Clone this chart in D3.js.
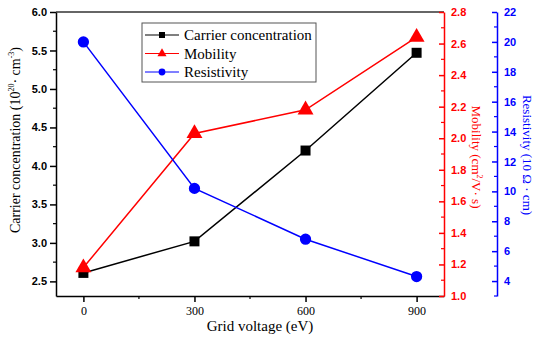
<!DOCTYPE html>
<html>
<head>
<meta charset="utf-8">
<script src="https://cdn.jsdelivr.net/npm/d3@7"></script>
<style>
  body { margin: 0; background: #fff; }
  svg { display: block; }
  .tick text { font-family: "Liberation Sans", Arial, sans-serif; font-weight: bold; font-size: 11px; }
</style>
</head>
<body>
<script>
// Data
const voltages = [0, 300, 600, 900];
const carrier = [2.61, 3.02, 4.20, 5.47];
const mobility = [1.18, 2.03, 2.18, 2.64];
const resistivity = [20.0, 10.2, 6.8, 4.3];
const xTicks = [0, 300, 600, 900];
const leftTicks = [2.5, 3.0, 3.5, 4.0, 4.5, 5.0, 5.5, 6.0];
const redTicks = [1.0, 1.2, 1.4, 1.6, 1.8, 2.0, 2.2, 2.4, 2.6, 2.8];
const blueTicks = [4, 6, 8, 10, 12, 14, 16, 18, 20, 22];
const legendNames = ["Carrier concentration", "Mobility", "Resistivity"];

const W = 535, H = 339;
const plotL = 56, plotR = 444, plotT = 12, plotB = 296;
const blueX = 497;
const serif = "'Liberation Serif', 'Times New Roman', serif";

const svg = d3.select("body").append("svg").attr("width", W).attr("height", H);

// Scales
const x = d3.scaleLinear().domain([-74, 974]).range([plotL, plotR]);
const yL = d3.scaleLinear().domain([2.31, 6.0]).range([plotB, plotT]);
const yR = d3.scaleLinear().domain([1.0, 2.8]).range([plotB, plotT]);
const yB = d3.scaleLinear().domain([3.0, 22.0]).range([plotB, plotT]);

// Top frame line
svg.append("line")
  .attr("x1", plotL).attr("x2", plotR).attr("y1", plotT).attr("y2", plotT)
  .attr("stroke", "#333").attr("stroke-width", 1.5);

// helper to style axes
const styleAxis = (g, color) => {
  g.selectAll("path, line").attr("stroke", color).attr("stroke-width", 1.5);
  g.selectAll("text").attr("fill", color);
};

// Minor ticks helper
const minor = (g, scale, vals, a1, a2, color, vertical) => {
  g.selectAll(null).data(vals).enter().append("line")
    .attr("x1", d => vertical ? a1 : scale(d))
    .attr("x2", d => vertical ? a2 : scale(d))
    .attr("y1", d => vertical ? scale(d) : a1)
    .attr("y2", d => vertical ? scale(d) : a2)
    .attr("stroke", color).attr("stroke-width", 1.2);
};

// Bottom axis
const gx = svg.append("g").attr("transform", `translate(0,${plotB})`)
  .call(d3.axisBottom(x).tickValues(xTicks).tickSize(6).tickSizeOuter(0).tickPadding(4));
gx.selectAll("text").style("font-family", serif).style("font-weight", "normal").style("font-size", "12px");
styleAxis(gx, "#000");
minor(svg, x, [150, 450, 750], plotB, plotB + 3, "#000", false);

// Left axis
const gl = svg.append("g").attr("transform", `translate(${plotL},0)`)
  .call(d3.axisLeft(yL).tickValues(leftTicks).tickFormat(d3.format(".1f")).tickSize(6).tickSizeOuter(0).tickPadding(3));
styleAxis(gl, "#000");
minor(svg, yL, [2.75, 3.25, 3.75, 4.25, 4.75, 5.25, 5.75], plotL - 3, plotL, "#000", true);

// Red axis (ticks inward)
const gr = svg.append("g").attr("transform", `translate(${plotR},0)`)
  .call(d3.axisRight(yR).tickValues(redTicks).tickFormat(d3.format(".1f")).tickSize(-5).tickSizeOuter(0).tickPadding(7));
styleAxis(gr, "#ff0000");
minor(svg, yR, d3.range(1.1, 2.8, 0.2), plotR - 3, plotR, "#ff0000", true);

// Blue axis (ticks to the left, labels right)
const gb = svg.append("g").attr("transform", `translate(${blueX},0)`)
  .call(d3.axisRight(yB).tickValues(blueTicks).tickSize(-5).tickSizeOuter(0).tickPadding(7));
styleAxis(gb, "#0000ff");
minor(svg, yB, d3.range(3, 22, 2), blueX - 3, blueX, "#0000ff", true);

// Axis titles
svg.append("text")
  .attr("transform", `translate(20,140) rotate(-90)`)
  .attr("text-anchor", "middle")
  .style("font-family", serif).style("font-size", "14px")
  .html('Carrier concentration (10<tspan dy="-6" font-size="8px">20</tspan><tspan dy="6">· cm</tspan><tspan dy="-6" font-size="8px">-3</tspan><tspan dy="6">)</tspan>');

svg.append("text")
  .attr("transform", `translate(472,157) rotate(90)`)
  .attr("text-anchor", "middle").attr("fill", "#ff0000")
  .style("font-family", serif).style("font-size", "13px")
  .html('Mobility (cm<tspan dy="-5" font-size="8px">2</tspan><tspan dy="5">/V· s)</tspan>');

svg.append("text")
  .attr("transform", `translate(523,155) rotate(90)`)
  .attr("text-anchor", "middle").attr("fill", "#0000ff")
  .style("font-family", serif).style("font-size", "13px")
  .text("Resistivity (10   Ω · cm)");

svg.append("text")
  .attr("x", 260).attr("y", 331).attr("text-anchor", "middle")
  .style("font-family", serif).style("font-size", "15px")
  .text("Grid voltage (eV)");

// Series
const series = [
  { vals: carrier, y: yL, color: "#000000", shape: d3.symbolSquare, size: 100 },
  { vals: mobility, y: yR, color: "#ff0000", shape: d3.symbolTriangle, size: 110 },
  { vals: resistivity, y: yB, color: "#0000ff", shape: d3.symbolCircle, size: 100 }
];

series.forEach(s => {
  const line = d3.line().x((d, i) => x(voltages[i])).y(d => s.y(d));
  svg.append("path").datum(s.vals)
    .attr("d", line).attr("fill", "none")
    .attr("stroke", s.color).attr("stroke-width", 1.5);
});
series.forEach(s => {
  svg.selectAll(null).data(s.vals).enter().append("path")
    .attr("d", d3.symbol().type(s.shape).size(s.size))
    .attr("transform", (d, i) => `translate(${x(voltages[i])},${s.y(d)})`)
    .attr("fill", s.color);
});

// Legend
const lg = svg.append("g");
lg.append("rect").attr("x", 142).attr("y", 23).attr("width", 174).attr("height", 59)
  .attr("fill", "#fff").attr("stroke", "#555").attr("stroke-width", 1);
series.forEach((s, i) => {
  const yy = 35 + i * 18.5;
  lg.append("line").attr("x1", 145).attr("x2", 179).attr("y1", yy).attr("y2", yy)
    .attr("stroke", s.color).attr("stroke-width", 1);
  lg.append("path").attr("d", d3.symbol().type(s.shape).size(36))
    .attr("transform", `translate(162,${yy})`).attr("fill", s.color);
  lg.append("text").attr("x", 184).attr("y", yy + 5)
    .style("font-family", serif).style("font-size", "15px")
    .text(legendNames[i]);
});
</script>
</body>
</html>
